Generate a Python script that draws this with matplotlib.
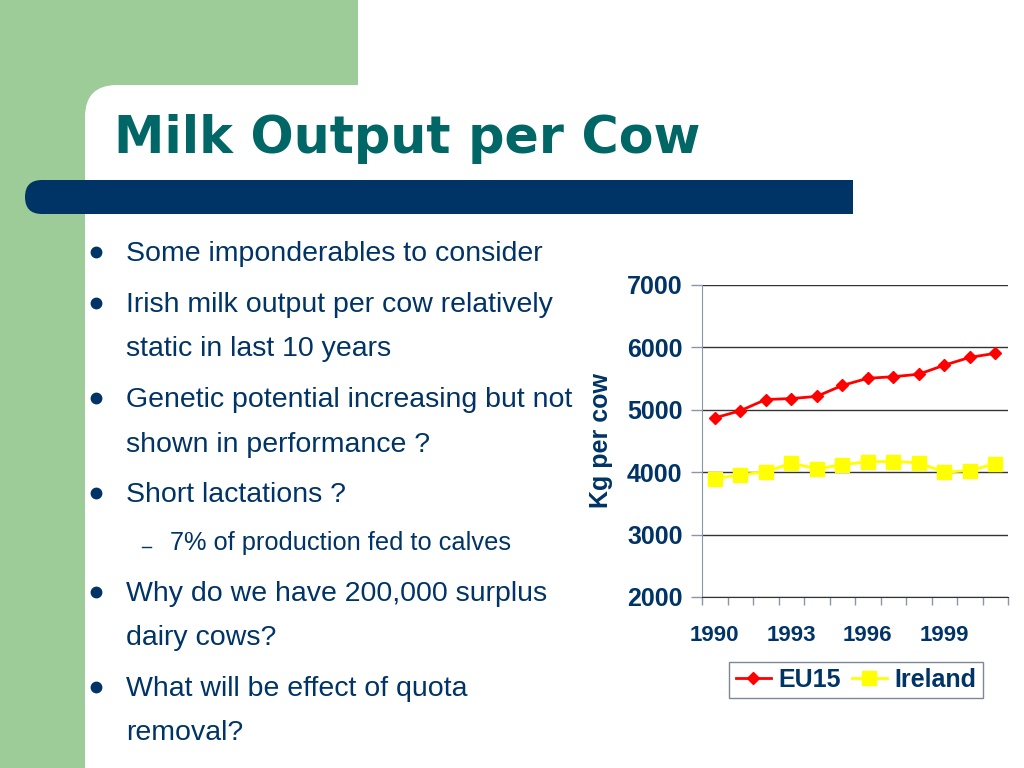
import matplotlib
matplotlib.use("Agg")
import matplotlib.pyplot as plt
from matplotlib.patches import Rectangle, FancyBboxPatch
from matplotlib.ticker import FixedLocator, NullFormatter

years = [1990, 1991, 1992, 1993, 1994, 1995, 1996, 1997, 1998, 1999, 2000, 2001]
eu15 = [4870, 4985, 5165, 5180, 5215, 5390, 5505, 5530, 5570, 5715, 5840, 5905]
ireland = [3895, 3960, 4005, 4145, 4055, 4120, 4170, 4170, 4150, 4000, 4025, 4135]
year_labels = ['1990', '1993', '1996', '1999']

bullets = [
    (0, 'Some imponderables to consider', 261),
    (0, 'Irish milk output per cow relatively', 312),
    (None, 'static in last 10 years', 356),
    (0, 'Genetic potential increasing but not', 407),
    (None, 'shown in performance ?', 452),
    (0, 'Short lactations ?', 502),
    (1, '7% of production fed to calves', 550),
    (0, 'Why do we have 200,000 surplus', 601),
    (None, 'dairy cows?', 645),
    (0, 'What will be effect of quota', 696),
    (None, 'removal?', 740),
]

navy = '#003366'
green = '#9dcc99'
teal = '#006666'

plt.rcParams['font.family'] = ['Liberation Sans', 'DejaVu Sans']

fig = plt.figure(figsize=(10.24, 7.68), dpi=100)
fig.patch.set_facecolor('white')

# slide decoration in pixel coords
bg = fig.add_axes([0, 0, 1, 1])
bg.set_xlim(0, 1024)
bg.set_ylim(768, 0)
bg.axis('off')
bg.add_patch(Rectangle((0, 0), 358, 130, color=green, lw=0))
bg.add_patch(Rectangle((0, 0), 86, 768, color=green, lw=0))
bg.add_patch(FancyBboxPatch((85 + 32, 85 + 32), 1100, 800,
                            boxstyle='round,pad=32,rounding_size=32',
                            fc='white', ec='none'))
bg.add_patch(FancyBboxPatch((25, 180), 853 - 25 + 40, 34,
                            boxstyle='round,pad=0,rounding_size=17',
                            fc=navy, ec='none'))
bg.add_patch(Rectangle((853, 175), 200, 45, color='white', lw=0))

bg.text(114, 153, 'Milk Output per Cow', color=teal, fontsize=36.5,
        fontweight='bold', family=['DejaVu Sans'],
        ha='left', va='baseline')

for level, txt, yb in bullets:
    if level == 0:
        bg.text(126, yb, txt, color=navy, fontsize=20.5, ha='left', va='baseline')
        bg.plot(96, yb - 9, 'o', color=navy, ms=7.5)
    elif level == 1:
        bg.text(170, yb, txt, color=navy, fontsize=18.3, ha='left', va='baseline')
        bg.plot([142, 151], [yb - 3, yb - 3], color=navy, lw=1)
    else:
        bg.text(126, yb, txt, color=navy, fontsize=20.5, ha='left', va='baseline')

# chart
ax = fig.add_axes([702 / 1024, 1 - 597 / 768, 306 / 1024, 312 / 768])
ax.set_facecolor('none')
x = list(range(len(years)))
ax.plot(x, eu15, color='#ff0000', lw=2, marker='D', ms=6, label='EU15', zorder=3)
ax.plot(x, ireland, color='#ffff00', lw=2, marker='s', ms=9.5, label='Ireland', zorder=3)

ax.set_xlim(-0.5, len(years) - 0.5)
ax.set_ylim(2000, 7000)
ax.set_yticks([2000, 3000, 4000, 5000, 6000, 7000])
ax.yaxis.grid(True, color='#333333', lw=1)
ax.set_axisbelow(True)

ax.xaxis.set_major_locator(FixedLocator([i - 0.5 for i in range(len(years) + 1)]))
ax.xaxis.set_major_formatter(NullFormatter())
ax.xaxis.set_minor_locator(FixedLocator([years.index(int(y)) for y in year_labels]))
ax.set_xticklabels(year_labels, minor=True)
ax.tick_params(axis='x', which='major', length=6, color='#8a96a8', width=1)
ax.tick_params(axis='x', which='minor', length=0, pad=20, labelsize=16,
               labelcolor=navy)
for t in ax.get_xticklabels(minor=True):
    t.set_fontweight('bold')
ax.tick_params(axis='y', length=8, color='#8a96a8', width=1, labelsize=18,
               labelcolor=navy, pad=6)
for t in ax.get_yticklabels():
    t.set_fontweight('bold')

for s in ['top', 'right']:
    ax.spines[s].set_visible(False)
ax.spines['left'].set_color('#8a96a8')
ax.spines['bottom'].set_color('#333333')

ax.set_ylabel('Kg per cow', color=navy, fontsize=18, fontweight='bold', labelpad=10)

leg = ax.legend(loc='center', bbox_to_anchor=(856 / 1024, 1 - 680 / 768),
                bbox_transform=fig.transFigure, ncol=2, frameon=True,
                fancybox=False, edgecolor='#5a6a80',
                handlelength=1.4, columnspacing=0.45, handletextpad=0.3,
                borderpad=0.25, borderaxespad=0,
                prop={'weight': 'bold', 'size': 18})
leg.get_frame().set_linewidth(1)
for t in leg.get_texts():
    t.set_color(navy)

fig.savefig('out.png', dpi=100)
